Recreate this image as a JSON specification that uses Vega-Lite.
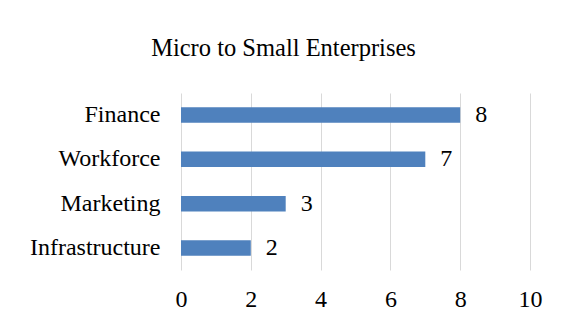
{
  "$schema": "https://vega.github.io/schema/vega-lite/v6.json",
  "autosize": {"type": "none"},
  "width": 349,
  "height": 177,
  "padding": {"left": 181, "top": 93, "right": 36, "bottom": 50},
  "background": "white",
  "title": {
    "text": "Micro to Small Enterprises",
    "font": "Liberation Serif",
    "fontSize": 24.5,
    "fontWeight": "normal",
    "color": "#000000",
    "anchor": "middle",
    "dx": -72,
    "offset": 32
  },
  "config": {
    "view": {"stroke": null},
    "font": "Liberation Serif"
  },
  "data": {
    "values": [
      {"category": "Finance", "value": 8},
      {"category": "Workforce", "value": 7},
      {"category": "Marketing", "value": 3},
      {"category": "Infrastructure", "value": 2}
    ]
  },
  "encoding": {
    "y": {
      "field": "category",
      "type": "nominal",
      "sort": null,
      "scale": {"paddingInner": 0.65, "paddingOuter": 0.32},
      "axis": {
        "title": null,
        "domain": false,
        "ticks": false,
        "labelPadding": 21,
        "labelFont": "Liberation Serif",
        "labelFontSize": 24,
        "labelColor": "#000000"
      }
    },
    "x": {
      "field": "value",
      "type": "quantitative",
      "scale": {"domain": [0, 10]},
      "axis": {
        "title": null,
        "values": [0, 2, 4, 6, 8, 10],
        "domain": false,
        "ticks": false,
        "grid": true,
        "gridColor": "#d9d9d9",
        "gridWidth": 1,
        "labelFlush": false,
        "labelOverlap": false,
        "labelPadding": 17,
        "labelFont": "Liberation Serif",
        "labelFontSize": 24,
        "labelColor": "#000000"
      }
    }
  },
  "layer": [
    {"mark": {"type": "bar", "color": "#4F81BD"}},
    {
      "mark": {"type": "text", "align": "left", "dx": 15, "font": "Liberation Serif", "fontSize": 24, "color": "#000000"},
      "encoding": {"text": {"field": "value", "type": "quantitative"}}
    }
  ]
}
